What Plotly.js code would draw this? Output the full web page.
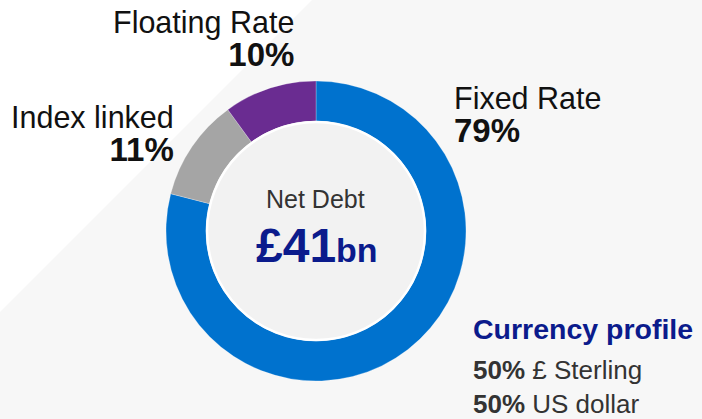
<!DOCTYPE html>
<html>
<head>
<meta charset="utf-8">
<script src="https://cdn.plot.ly/plotly-3.0.1.min.js"></script>
<style>html,body{margin:0;padding:0;background:#f7f7f7;}#chart{width:702px;height:419px;}</style>
</head>
<body>
<div id="chart"></div>
<script>
const categories = ["Fixed Rate", "Index linked", "Floating Rate"];
const values = [79, 11, 10];
const sliceColors = ["#0072CE", "#A5A5A5", "#6A2C91"];
const centerTitle = "Net Debt";
const centerValue = "£41";
const centerUnit = "bn";
const currencyTitle = "Currency profile";
const currencyShares = [50, 50];
const currencyNames = ["£ Sterling", "US dollar"];

const W = 702, H = 419;
const px = x => x / W;
const py = y => 1 - y / H;

const FONT = "Liberation Sans, Arial, sans-serif";
const cx = 316, cy = 231, R = 150;

const data = [{
  type: "pie",
  values: values,
  labels: categories,
  marker: {colors: sliceColors, line: {color: "rgba(255,255,255,0.5)", width: 0.5}},
  hole: 0.733,
  sort: false,
  direction: "clockwise",
  rotation: 0,
  textinfo: "none",
  hoverinfo: "label+percent",
  showlegend: false,
  domain: {x: [px(cx - R), px(cx + R)], y: [py(cy + R), py(cy - R)]}
}];

function label(name, pct, x, yMid, anchor) {
  return {
    text: "<span style=\"font-size:30.5px\">" + name + "</span><br><span style=\"font-size:33px\"><b>" + pct + "%</b></span>",
    x: px(x), y: py(yMid), xanchor: anchor, yanchor: "middle", align: anchor,
    font: {size: 25.5, color: "#111"}
  };
}

const annotations = [];
annotations.push(label(categories[2], values[2], 296, 39, "right"));
annotations.push(label(categories[1], values[1], 176, 134, "right"));
annotations.push(label(categories[0], values[0], 452, 115, "left"));
annotations.push({text: centerTitle, x: px(cx - 1), y: py(199), xanchor: "center", yanchor: "middle",
  font: {size: 25, color: "#333"}});
annotations.push({text: "<b>" + centerValue + "<span style=\"font-size:34px\">" + centerUnit + "</span></b>",
  x: px(cx + 1), y: py(245), xanchor: "center", yanchor: "middle",
  font: {size: 48, color: "#0B1B8C"}});
annotations.push({text: "<b>" + currencyTitle + "</b>", x: px(471), y: py(329), xanchor: "left", yanchor: "middle",
  font: {size: 28.5, color: "#0B1B8C"}});
currencyNames.forEach((n, i) => {
  annotations.push({text: "<b>" + currencyShares[i] + "%</b> " + n, x: px(471), y: py(370 + i * 34),
    xanchor: "left", yanchor: "middle", font: {size: 26, color: "#333"}});
});
annotations.forEach(a => { a.xref = "paper"; a.yref = "paper"; a.showarrow = false; a.font.family = FONT; });

const layout = {
  width: W, height: H,
  margin: {l: 0, r: 0, t: 0, b: 0, pad: 0},
  paper_bgcolor: "#f7f7f7",
  plot_bgcolor: "rgba(0,0,0,0)",
  font: {family: FONT},
  showlegend: false,
  shapes: [
    {type: "path", xref: "paper", yref: "paper", layer: "below",
     path: "M 0 1 L " + px(312) + " 1 L 0 " + py(312) + " Z",
     fillcolor: "#ffffff", line: {width: 0}},
    {type: "circle", xref: "paper", yref: "paper", layer: "above",
     x0: px(cx - 109), x1: px(cx + 109), y0: py(cy + 109), y1: py(cy - 109),
     fillcolor: "#f2f2f2", line: {color: "#ffffff", width: 2.5}}
  ],
  annotations: annotations
};

Plotly.newPlot("chart", data, layout, {displayModeBar: false, staticPlot: true});
</script>
</body>
</html>
